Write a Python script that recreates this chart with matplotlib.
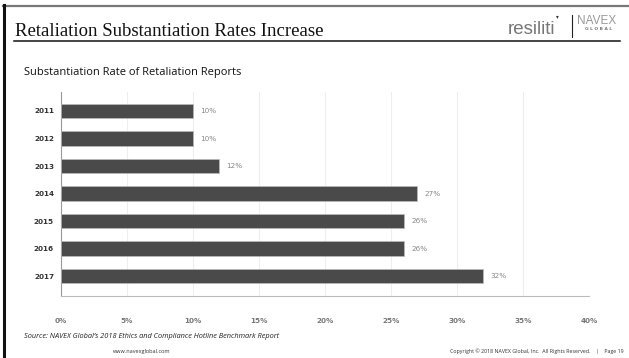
import matplotlib
matplotlib.use("Agg")
import matplotlib.pyplot as plt
from matplotlib.lines import Line2D

# Substantiation rates by report year
years = ["2011", "2012", "2013", "2014", "2015", "2016", "2017"]
rates = [10, 10, 12, 27, 26, 26, 32]
rate_labels = ["10%", "10%", "12%", "27%", "26%", "26%", "32%"]
xticks = [0, 5, 10, 15, 20, 25, 30, 35, 40]
xtick_labels = ["0%", "5%", "10%", "15%", "20%", "25%", "30%", "35%", "40%"]

W, H = 629, 358
fig = plt.figure(figsize=(W / 100, H / 100), dpi=100)
fig.patch.set_facecolor("white")


def fx(px):
    return px / W


def fy(py):
    return 1 - py / H


# slide frame
fig.add_artist(Line2D([fx(3), fx(629)], [fy(6), fy(6)], color="#777777", lw=1.6))
fig.add_artist(Line2D([fx(4), fx(4)], [fy(5), fy(358)], color="#111111", lw=2.2))

# slide header
fig.text(fx(15), fy(31), "Retaliation Substantiation Rates Increase",
         family="Liberation Serif", fontsize=13.5, color="#111111", va="center")
fig.add_artist(Line2D([fx(14), fx(620)], [fy(40.5), fy(40.5)], color="#111111", lw=1.1))
fig.text(fx(508), fy(29), "resiliti", family="Liberation Sans", fontsize=13.5,
         color="#777777", va="center")
fig.text(fx(557), fy(17), "\u25be", fontsize=4, color="#333333", va="center", ha="center")
fig.add_artist(Line2D([fx(572), fx(572)], [fy(15), fy(37)], color="#222222", lw=0.8))
fig.text(fx(597), fy(21), "NAVEX", family="Liberation Sans", fontsize=8.5,
         color="#999999", va="center", ha="center")
fig.text(fx(599), fy(29), "G L O B A L", family="DejaVu Sans", fontsize=3.2,
         color="#777777", va="center", ha="center", weight="bold")

fig.text(fx(24), fy(72), "Substantiation Rate of Retaliation Reports",
         family="Open Sans", fontsize=8, color="#111111", va="center")

# bar chart
ax = fig.add_axes([fx(61), fy(296), fx(589) - fx(61), fy(92) - fy(296)])
pos = list(range(len(years)))
ax.barh(pos, rates, height=0.52, color="#4a4a4a", edgecolor="#bbbbbb", linewidth=0.5,
        zorder=3)
for p, r, lab in zip(pos, rates, rate_labels):
    ax.annotate(lab, (r, p), xytext=(5, 0), textcoords="offset points",
                va="center", ha="left", fontsize=5.2, color="#888888",
                family="DejaVu Sans")

ax.set_xlim(0, 40)
ax.set_ylim(6.72, -0.69)
ax.set_xticks(xticks)
ax.set_xticklabels(xtick_labels)
ax.set_yticks(pos)
ax.set_yticklabels(years)
ax.tick_params(axis="x", length=0, pad=16, labelsize=5.2, labelcolor="#777777")
ax.tick_params(axis="y", length=0, pad=5, labelsize=5.2, labelcolor="#333333")
for lab in ax.get_xticklabels() + ax.get_yticklabels():
    lab.set_fontweight("bold")
ax.grid(axis="x", color="#eeeeee", lw=0.8, zorder=0)
for s in ["top", "right"]:
    ax.spines[s].set_visible(False)
ax.spines["left"].set_color("#999999")
ax.spines["bottom"].set_color("#bbbbbb")
ax.spines["left"].set_linewidth(0.8)
ax.spines["bottom"].set_linewidth(0.8)

# footer
fig.text(fx(24), fy(337), "Source: NAVEX Global\u2019s 2018 Ethics and Compliance Hotline Benchmark Report",
         family="Open Sans", style="italic", fontsize=5.3, color="#222222", va="center")
fig.text(fx(142), fy(351), "www.navexglobal.com", family="Open Sans", fontsize=4,
         color="#333333", va="center", ha="center")
fig.text(fx(624), fy(351),
         "Copyright \u00a9 2018 NAVEX Global, Inc.  All Rights Reserved.    |    Page 19",
         family="Open Sans", fontsize=3.8, color="#333333", va="center", ha="right")

fig.savefig("out.png", dpi=100)
